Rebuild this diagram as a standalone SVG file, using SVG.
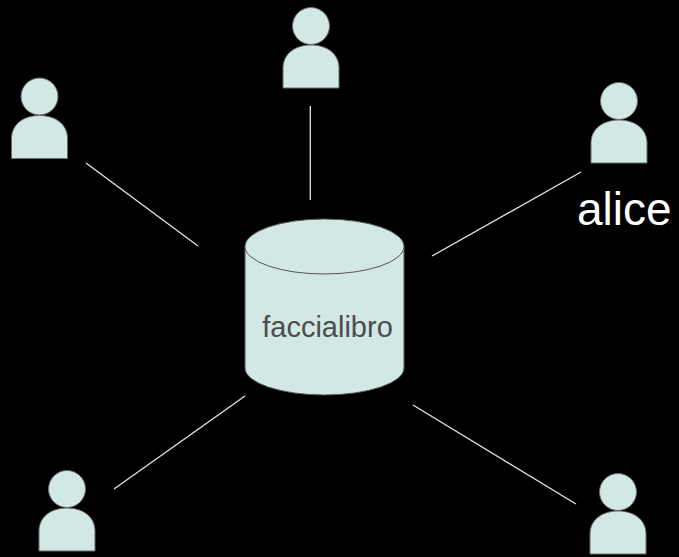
<svg xmlns="http://www.w3.org/2000/svg" width="679" height="557" viewBox="0 0 679 557">
<defs>
<style>
.p{fill:#d1e8e5;stroke:#6b6b6b;stroke-width:1}
.c{stroke:#e6e6e6;stroke-width:1.3;fill:none}
.db{fill:#d1e8e5;stroke:#555;stroke-width:1}
</style>
<g id="person">
<circle cx="0" cy="0" r="18.5" class="p"/>
<path class="p" d="M-28,62 L-28,42 C-28,28 -16,19 0,19 C16,19 28,28 28,42 L28,62 Z"/>
</g>
</defs>
<rect width="679" height="557" fill="#000"/>
<g id="connectors">
<line class="c" x1="310.3" y1="106" x2="310.3" y2="200"/>
<line class="c" x1="86" y1="163" x2="198" y2="246"/>
<line class="c" x1="432" y1="256" x2="581" y2="172"/>
<line class="c" x1="114" y1="489" x2="245" y2="396"/>
<line class="c" x1="413" y1="405" x2="576" y2="504"/>
</g>
<g id="db">
<path class="db" d="M245,246.5 L245,368 A79.5,27 0 0 0 404,368 L404,246.5 A79.5,27.5 0 0 0 245,246.5 Z"/>
<path class="db" d="M245,246.5 A79.5,27.5 0 0 0 404,246.5" fill="none"/>
<text x="327.5" y="337" font-family="'Liberation Sans',Arial,sans-serif" font-size="29" fill="#4d4d4d" text-anchor="middle">faccialibro</text>
</g>
<g id="user-top"><use href="#person" x="311" y="26"/></g>
<g id="user-topleft"><use href="#person" x="39.5" y="96.5"/></g>
<g id="alice"><use href="#person" x="619" y="101"/>
<text x="577" y="225" font-family="'Liberation Sans',Arial,sans-serif" font-size="46" fill="#fff">alice</text></g>
<g id="user-bottomleft"><use href="#person" x="67" y="489"/></g>
<g id="user-bottomright"><use href="#person" x="618" y="492"/></g>
</svg>
